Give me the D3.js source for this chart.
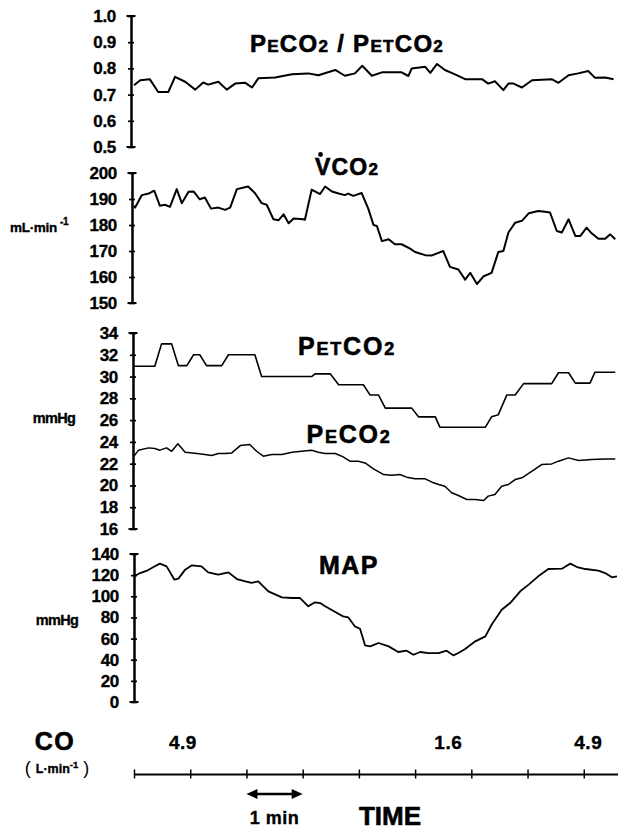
<!DOCTYPE html>
<html><head><meta charset="utf-8">
<script src="https://cdn.jsdelivr.net/npm/d3@7"></script>
<style>
html,body{margin:0;padding:0;background:#fff;}
svg{display:block;}
text{font-family:"Liberation Sans",Arial,Helvetica,sans-serif;font-weight:bold;fill:#000;stroke:#000;stroke-width:0.35px;}
</style></head>
<body>
<svg id="chart" width="618" height="831"></svg>
<script>
// ---------- DATA (time in minutes) ----------
const ratioT = [0,0.11,0.28,0.43,0.61,0.73,0.91,1.09,1.23,1.32,1.50,1.65,1.80,1.98,2.10,2.21,2.51,2.81,3.10,3.28,3.58,3.75,3.93,4.06,4.23,4.41,4.76,4.88,4.94,5.18,5.27,5.39,5.53,5.71,5.89,6.19,6.30,6.42,6.57,6.66,6.75,6.90,7.08,7.43,7.55,7.73,7.90,8.08,8.20,8.38,8.53];
const ratioV = [0.736,0.755,0.759,0.710,0.710,0.768,0.749,0.719,0.746,0.738,0.749,0.719,0.742,0.745,0.727,0.762,0.765,0.778,0.781,0.774,0.794,0.772,0.781,0.810,0.772,0.785,0.785,0.771,0.800,0.806,0.783,0.817,0.794,0.777,0.759,0.759,0.742,0.751,0.717,0.742,0.742,0.727,0.755,0.759,0.745,0.774,0.781,0.790,0.764,0.765,0.759];

const vco2T = [0,0.02,0.14,0.26,0.36,0.46,0.55,0.64,0.76,0.85,0.97,1.06,1.17,1.26,1.37,1.50,1.62,1.71,1.83,2.03,2.15,2.27,2.36,2.48,2.57,2.66,2.75,2.84,3.01,3.04,3.16,3.31,3.40,3.52,3.64,3.75,3.81,3.90,4.05,4.17,4.26,4.32,4.41,4.53,4.64,4.76,4.91,5.00,5.18,5.30,5.39,5.50,5.62,5.77,5.89,5.98,6.10,6.22,6.36,6.48,6.57,6.66,6.78,6.90,7.02,7.19,7.31,7.40,7.52,7.61,7.73,7.85,7.94,8.05,8.14,8.26,8.38,8.47,8.56];
const vco2V = [187.4,186.7,191.5,192.1,193.2,187.4,187.8,187.0,193.8,188.4,192.8,192.9,189.9,190.6,186.3,186.7,185.8,186.7,193.8,194.8,192.3,188.4,187.8,182.2,181.8,184.1,180.7,182.5,182.2,182.0,193.6,191.9,194.8,192.9,192.1,191.5,192.1,191.2,192.3,186.1,180.0,179.6,173.8,174.5,172.6,172.6,170.9,169.6,168.4,168.3,169.1,170.0,163.9,162.9,159.0,161.6,157.3,160.3,161.6,169.6,170.0,177.1,180.9,181.6,184.5,185.4,185.1,184.8,177.7,177.1,182.2,175.8,175.8,179.0,176.8,174.7,174.7,176.4,174.5];

const petco2T = [0,0.37,0.49,0.67,0.79,0.94,1.06,1.17,1.29,1.56,1.68,2.15,2.27,3.16,3.22,3.49,3.64,4.08,4.20,4.35,4.47,4.94,5.06,5.36,5.44,6.25,6.36,6.48,6.63,6.78,6.93,7.43,7.55,7.73,7.85,8.11,8.20,8.56];
const petco2V = [30.95,30.95,33.0,33.0,31.0,31.0,32.0,32.0,31.0,31.0,32.0,32.0,30.0,30.0,30.25,30.25,29.25,29.25,28.3,28.3,27.1,27.1,26.3,26.3,25.35,25.35,26.3,26.5,28.3,28.3,29.35,29.35,30.35,30.35,29.4,29.4,30.4,30.4];

const peco2T = [0,0.08,0.26,0.37,0.46,0.58,0.67,0.78,0.91,1.12,1.26,1.38,1.50,1.62,1.74,1.89,2.06,2.18,2.30,2.45,2.63,2.81,2.98,3.16,3.28,3.40,3.58,3.72,3.84,3.99,4.11,4.26,4.44,4.58,4.73,4.85,5.00,5.18,5.30,5.42,5.53,5.65,5.77,5.92,6.07,6.22,6.30,6.42,6.54,6.66,6.78,6.90,7.08,7.25,7.43,7.55,7.73,7.91,8.14,8.38,8.56];
const peco2V = [22.69,23.24,23.45,23.39,23.24,23.45,23.14,23.82,23.05,22.93,22.84,22.75,22.93,22.93,22.99,23.66,23.76,23.14,22.69,22.84,22.84,23.05,23.14,23.24,23.05,22.93,22.93,22.62,22.23,22.23,22.07,21.52,21.0,20.94,21.0,20.76,20.61,20.61,20.30,20.09,19.93,19.33,19.08,18.71,18.71,18.62,19.02,19.17,19.93,20.09,20.54,20.70,21.31,21.92,21.98,22.23,22.53,22.29,22.38,22.44,22.44];

const mapT = [0,0.11,0.23,0.34,0.46,0.58,0.72,0.79,0.91,1.03,1.20,1.32,1.50,1.68,1.83,1.98,2.09,2.21,2.39,2.63,2.81,2.95,3.10,3.22,3.31,3.40,3.58,3.72,3.81,3.93,4.02,4.11,4.20,4.35,4.53,4.70,4.85,4.97,5.09,5.24,5.42,5.56,5.68,5.77,5.89,6.07,6.25,6.36,6.54,6.69,6.87,7.02,7.19,7.37,7.61,7.76,7.88,8.03,8.26,8.38,8.50,8.59];
const mapV = [118.9,122.0,124.2,127.4,130.9,128.3,115.7,116.7,125.2,129.3,128.3,122.6,120.4,122.6,116.3,114.1,112.6,114.1,104.7,99.0,98.4,98.4,90.5,94.3,93.6,90.5,85.1,81.0,80.1,71.5,69.3,53.6,52.6,55.8,52.6,47.3,48.5,44.7,47.3,46.3,46.3,48.5,44.1,46.3,50.1,57.4,62.1,73.1,87.3,93.6,104.7,111.0,118.9,125.8,126.1,130.9,127.7,125.8,124.2,122.0,117.9,118.9];

const ratioTicks = [0.5,0.6,0.7,0.8,0.9,1.0];
const vco2Ticks = [150,160,170,180,190,200];
const co2Ticks = [16,18,20,22,24,26,28,30,32,34];
const mapTicks = [0,20,40,60,80,100,120,140];
const timeTicks = [0,1,2,3,4,5,6,7,8];
const coTimes = [0.87,5.59,8.08];
const coLabels = ["4.9","1.6","4.9"];

// ---------- LAYOUT ----------
const svg = d3.select("#chart");
const x = d3.scaleLinear().domain([0, 8.6]).range([134, 617.5]);

const panels = [
  {ticks: ratioTicks, dom:[0.5,1.0], range:[147,16], ax:131, fmt:d3.format(".1f"),
   series:[{t:ratioT, v:ratioV, w:2.0}]},
  {ticks: vco2Ticks, dom:[150,200], range:[303,173], ax:132, fmt:d3.format("d"),
   series:[{t:vco2T, v:vco2V, w:2.0}]},
  {ticks: co2Ticks, dom:[16,34], range:[529,333], ax:133, fmt:d3.format("d"),
   series:[{t:petco2T, v:petco2V, w:1.6},{t:peco2T, v:peco2V, w:1.5}]},
  {ticks: mapTicks, dom:[0,140], range:[702,554], ax:134, fmt:d3.format("d"),
   series:[{t:mapT, v:mapV, w:1.8}]}
];

panels.forEach(p => {
  const y = d3.scaleLinear().domain(p.dom).range(p.range);
  const g = svg.append("g").attr("transform", `translate(${p.ax},0)`);
  const axis = d3.axisLeft(y).tickValues(p.ticks).tickFormat(p.fmt).tickSize(0).tickPadding(15);
  g.call(axis);
  g.select(".domain").attr("stroke","#000").attr("stroke-width",2.5);
  g.selectAll(".tick text").attr("font-size",17).attr("font-weight","bold")
    .attr("font-family",'"Liberation Sans",Arial,sans-serif').attr("fill","#000")
    .attr("stroke","#000").attr("stroke-width",0.45).attr("letter-spacing",-0.3);
  g.selectAll(".tick").append("line").attr("x1",-3).attr("x2",3).attr("stroke","#000").attr("stroke-width",1.7);
  [p.dom[0], p.dom[1]].forEach(v => {
    g.append("line").attr("x1",-4.5).attr("x2",4.5).attr("y1",y(v)).attr("y2",y(v))
      .attr("stroke","#000").attr("stroke-width",2);
  });
  p.series.forEach(s => {
    const pts = s.t.map((t,i)=>[t, s.v[i]]);
    const line = d3.line().x(d=>x(d[0])).y(d=>y(d[1]));
    svg.append("path").datum(pts).attr("d", line).attr("fill","none")
      .attr("stroke","#000").attr("stroke-width", s.w).attr("stroke-linejoin","round");
  });
});

// ---------- TITLES ----------
function title(xc, yb, parts, ls) {
  const t = svg.append("text").attr("x", xc).attr("y", yb).attr("text-anchor","middle")
    .attr("letter-spacing", ls).style("stroke-width","0.6px");
  parts.forEach(([txt, size]) => t.append("tspan").attr("font-size", size).text(txt));
  return t;
}
title(347, 52, [["P",24],["E",17],["CO",24],["2",17],[" / ",24],["P",24],["ET",17],["CO",24],["2",17]], 1.3);
title(347, 175, [["V",23],["CO",23],["2",17]], 1.2);
svg.append("circle").attr("cx", 320.5).attr("cy", 154.5).attr("r", 2.4).attr("fill","#000");
title(347, 355, [["P",25],["ET",18],["CO",25],["2",18]], 1.8);
title(349, 443, [["P",25],["E",18],["CO",25],["2",18]], 1.8);
title(349, 574, [["MAP",25]], 1.5);

// ---------- UNIT LABELS ----------
const u = svg.append("text").attr("x", 10).attr("y", 232).attr("font-size", 13.5).attr("letter-spacing",-0.3);
u.append("tspan").text("mL·min");
u.append("tspan").attr("dy",-7).attr("dx",3).attr("font-size",10).text("-1");
svg.append("text").attr("x", 54).attr("y", 423).attr("text-anchor","middle").attr("font-size",14.5).attr("letter-spacing",-0.7).text("mmHg");
svg.append("text").attr("x", 57).attr("y", 625).attr("text-anchor","middle").attr("font-size",14.5).attr("letter-spacing",-0.7).text("mmHg");

// ---------- CO row & time axis ----------
svg.append("text").attr("x", 55).attr("y", 750).attr("text-anchor","middle").attr("font-size",25).attr("letter-spacing",1.5).style("stroke-width","0.6px").text("CO");
const cu = svg.append("text").attr("x", 57).attr("y", 774).attr("text-anchor","middle").attr("font-size",12.5);
cu.append("tspan").attr("font-size",18).attr("font-weight","normal").style("stroke-width","0px").text("( ");
cu.append("tspan").attr("dy",-1).text("L·min");
cu.append("tspan").attr("dy",-5).attr("font-size",9.5).text("-1");
cu.append("tspan").attr("dy",6).attr("font-size",18).attr("font-weight","normal").style("stroke-width","0px").text(" )");

svg.selectAll(".colab").data(coTimes).enter().append("text").attr("class","colab")
  .attr("x", d=>x(d)).attr("y", 749).attr("text-anchor","middle").attr("font-size",19)
  .attr("letter-spacing",0.5).text((d,i)=>coLabels[i]);

const tg = svg.append("g").attr("transform","translate(0,774)");
tg.call(d3.axisBottom(x).tickValues(timeTicks).tickFormat("").tickSizeInner(0).tickSizeOuter(0));
tg.select(".domain").attr("stroke","#000").attr("stroke-width",2);
tg.selectAll(".tick").append("line").attr("y1",-4.5).attr("y2",4.5).attr("stroke","#000").attr("stroke-width",1.5);

// 1 min arrow
const a0 = x(2), a1 = x(3), ay = 794;
svg.append("line").attr("x1",a0+7).attr("x2",a1-7).attr("y1",ay).attr("y2",ay).attr("stroke","#000").attr("stroke-width",2.4);
svg.append("path").attr("d",`M${a0},${ay} L${a0+11},${ay-5} L${a0+11},${ay+5} Z`).attr("fill","#000");
svg.append("path").attr("d",`M${a1},${ay} L${a1-11},${ay-5} L${a1-11},${ay+5} Z`).attr("fill","#000");
svg.append("text").attr("x",(a0+a1)/2).attr("y",824).attr("text-anchor","middle").attr("font-size",18).attr("letter-spacing",0.5).text("1 min");
svg.append("text").attr("x",390).attr("y",825).attr("text-anchor","middle").attr("font-size",26).style("stroke-width","0.6px").text("TIME");
</script>
</body></html>
